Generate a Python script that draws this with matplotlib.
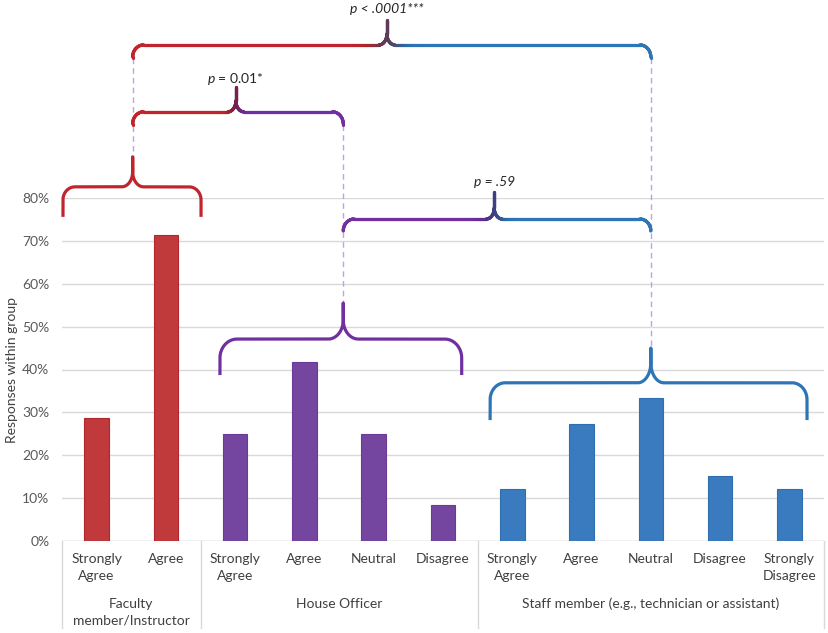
import numpy as np
import matplotlib
matplotlib.use("Agg")
import matplotlib.pyplot as plt
from matplotlib.collections import LineCollection
from matplotlib.colors import to_rgb

# ---------------- data ----------------
groups = ["Faculty\nmember/Instructor", "House Officer",
          "Staff member (e.g., technician or assistant)"]
faculty_labels = ["Strongly\nAgree", "Agree"]
house_labels = ["Strongly\nAgree", "Agree", "Neutral", "Disagree"]
staff_labels = ["Strongly\nAgree", "Agree", "Neutral", "Disagree", "Strongly\nDisagree"]
faculty_values = [28.6, 71.4]
house_values = [25.0, 41.7, 25.0, 8.3]
staff_values = [12.1, 27.3, 33.3, 15.2, 12.1]
y_ticks = [0, 10, 20, 30, 40, 50, 60, 70, 80]
y_label = "Responses within group"

# comparisons: (left group, right group, label, italic whole label)
comparisons = [(0, 1, "$p$ = 0.01*", False),
               (1, 2, "p = .59", True),
               (0, 2, "p < .0001***", True)]

# ---------------- style ----------------
plt.rcParams['font.family'] = ['Lato', 'DejaVu Sans']
plt.rcParams['mathtext.fontset'] = 'custom'
plt.rcParams['mathtext.it'] = 'Lato:italic'
plt.rcParams['mathtext.rm'] = 'Lato'

bar_colors = ["#C0393B", "#7546A0", "#3A7BBF"]
edge_colors = ["#B3262A", "#6A3A96", "#2F6FB0"]
brace_colors = ["#C0252D", "#7030A0", "#2E75B6"]
grid_color = "#D9D9D9"
text_color = "#404040"
dash_color = "#B9A6DC"
FS = 10

W, H, DPI = 829, 633, 100
fig = plt.figure(figsize=(W / DPI, H / DPI), dpi=DPI)
ax_l, ax_b, ax_w, ax_h = 62, 92, 762, 343
ax = fig.add_axes([ax_l / W, ax_b / H, ax_w / W, ax_h / H])

all_values = faculty_values + house_values + staff_values
all_labels = faculty_labels + house_labels + staff_labels
sizes = [len(faculty_values), len(house_values), len(staff_values)]
group_of = np.repeat(np.arange(3), sizes)
x = np.arange(len(all_values))

ax.set_xlim(-0.5, len(all_values) - 0.5)
ax.set_ylim(0, 80)
sx = ax_w / (len(all_values))   # px per x unit
sy = ax_h / 80.0                # px per y unit

ax.bar(x, all_values, width=0.355,
       color=[bar_colors[g] for g in group_of],
       edgecolor=[edge_colors[g] for g in group_of], linewidth=0.8, zorder=3)

ax.set_yticks(y_ticks)
ax.set_yticklabels([f"{v}%" for v in y_ticks], fontsize=FS, color="#595959")
ax.tick_params(axis='y', length=0, pad=9)
ax.set_xticks([])
for s in ax.spines.values():
    s.set_visible(False)
ax.yaxis.grid(True, color=grid_color, linewidth=1.0, zorder=0)
ax.set_axisbelow(True)
ax.axhline(0, color=grid_color, linewidth=1.0, zorder=1)
fig.text(12 / W, 1 - 370 / H, y_label, rotation=90, ha='center', va='center',
         fontsize=FS, color=text_color)

# category axis labels
xt = ax.get_xaxis_transform()
for i, lab in enumerate(all_labels):
    ax.text(x[i], -0.036, lab, transform=xt, ha='center', va='top',
            fontsize=FS, color=text_color, linespacing=1.45)
starts = np.concatenate([[0], np.cumsum(sizes)])
for g in range(3):
    xc = (starts[g] + starts[g + 1] - 1) / 2
    ax.text(xc, -0.165, groups[g], transform=xt, ha='center', va='top',
            fontsize=FS, color=text_color, linespacing=1.45)
for b in starts:
    ax.plot([b - 0.5, b - 0.5], [0, -0.254], transform=xt, color=grid_color,
            linewidth=1.0, clip_on=False)

# ---------------- braces ----------------
def brace_pts(x0, x1, xtp, ye, yh, yt, re, rm, n=40):
    rex, rey = re[0] / sx, re[1] / sy
    rmx, rmy = rm[0] / sx, rm[1] / sy
    P = []
    P += list(zip(np.full(n, x0), np.linspace(ye, yh - rey, n)))
    th = np.linspace(np.pi, np.pi / 2, n)
    P += list(zip(x0 + rex + rex * np.cos(th), yh - rey + rey * np.sin(th)))
    P += list(zip(np.linspace(x0 + rex, xtp - rmx, 4 * n), np.full(4 * n, yh)))
    th = np.linspace(-np.pi / 2, 0, n)
    P += list(zip(xtp - rmx + rmx * np.cos(th), yh + rmy + rmy * np.sin(th)))
    P += list(zip(np.full(n, xtp), np.linspace(yh + rmy, yt, n)))
    P += list(zip(np.full(n, xtp), np.linspace(yt, yh + rmy, n)))
    th = np.linspace(np.pi, 1.5 * np.pi, n)
    P += list(zip(xtp + rmx + rmx * np.cos(th), yh + rmy + rmy * np.sin(th)))
    P += list(zip(np.linspace(xtp + rmx, x1 - rex, 4 * n), np.full(4 * n, yh)))
    th = np.linspace(np.pi / 2, 0, n)
    P += list(zip(x1 - rex + rex * np.cos(th), yh - rey + rey * np.sin(th)))
    P += list(zip(np.full(n, x1), np.linspace(yh - rey, ye, n)))
    return np.array(P)

def draw_brace(P, c1, c2=None, xc=None, win_px=20):
    if c2 is None:
        ax.plot(P[:, 0], P[:, 1], color=c1, linewidth=2.3, clip_on=False,
                solid_capstyle='butt', solid_joinstyle='round', zorder=5)
        return
    segs = np.stack([P[:-1], P[1:]], axis=1)
    mx = segs[:, :, 0].mean(axis=1)
    t = np.clip((mx - xc) * sx / win_px + 0.5, 0, 1)[:, None]
    cols = (1 - t) * np.array(to_rgb(c1)) + t * np.array(to_rgb(c2))
    dark = 1 - 0.22 * np.exp(-((mx - xc) * sx / (win_px * 0.5)) ** 2)
    cols = cols * dark[:, None]
    lc = LineCollection(segs, colors=cols, linewidths=2.3, capstyle='round',
                        clip_on=False, zorder=5)
    ax.add_collection(lc)

# group braces: x0, x1, tip x, y end, y horizontal, y tip, radii (px)
group_braces = [
    (-0.486, 1.507, 0.52, 75.6, 82.6, 89.6, (12, 13), (11, 15)),
    (1.78, 5.27, 3.56, 38.7, 47.1, 55.5, (17, 19), (15, 19)),
    (5.68, 10.255, 8.0, 28.2, 36.9, 45.0, (15, 17), (13, 20)),
]
for g, (x0, x1, xtp, ye, yh, yt, re, rm) in enumerate(group_braces):
    draw_brace(brace_pts(x0, x1, xtp, ye, yh, yt, re, rm), brace_colors[g])

# comparison braces: y end, y horizontal, y tip, label y, tip x, blend window
comp_geom = {
    (0, 1): (97.0, 100.1, 105.9, 107.8, 2.01, 16),
    (1, 2): (72.3, 75.1, 81.4, 83.8, 5.74, 24),
    (0, 2): (112.7, 115.7, 121.5, 124.0, 4.19, 40),
}
for (ga, gb, lab, ital) in comparisons:
    ye, yh, yt, yl, xtp, win = comp_geom[(ga, gb)]
    xa = group_braces[ga][2]
    xb = group_braces[gb][2]
    P = brace_pts(xa, xb, xtp, ye, yh, yt, (11, 12), (8, 11))
    draw_brace(P, brace_colors[ga], brace_colors[gb], xtp, win)
    ax.text(xtp, yl, lab, ha='center', va='center', fontsize=FS,
            color="#262626", clip_on=False,
            style='italic' if ital else 'normal')

# dashed connectors
dash_specs = [
    (group_braces[0][2], 112.7, group_braces[0][5]),
    (group_braces[1][2], 97.0, group_braces[1][5]),
    (group_braces[2][2], 112.7, group_braces[2][5]),
]
for xd, ytop, ybot in dash_specs:
    ax.plot([xd, xd], [ytop, ybot], color=dash_color, linewidth=1.0,
            linestyle=(0, (4, 3)), clip_on=False, zorder=4)

fig.savefig("out.png", dpi=DPI)
